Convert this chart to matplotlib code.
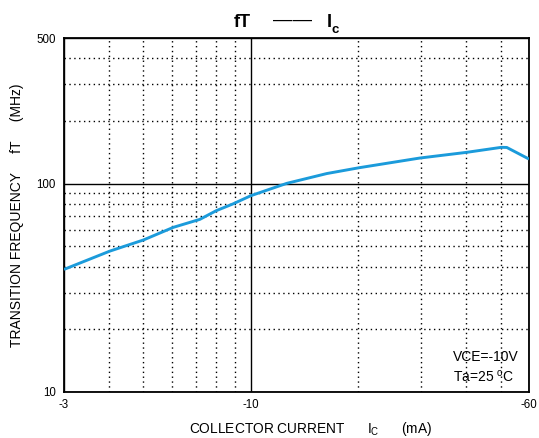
import matplotlib
matplotlib.use("Agg")
import matplotlib.pyplot as plt

plt.rcParams['font.family'] = ['Liberation Sans', 'DejaVu Sans']
plt.rcParams['mathtext.default'] = 'regular'

# Data (collector current magnitude in mA, transition frequency in MHz)
ic_ma = [3.0, 4.03, 5.0, 6.07, 7.2, 8.0, 8.9, 10.0, 12.6, 16.3, 20.1, 29.7, 40.1, 50.2, 52.0, 60.0]
ft_mhz = [38.8, 47.5, 53.7, 61.8, 67.5, 74.3, 80.0, 87.7, 100.5, 112.0, 119.5, 133.0, 141.6, 149.7, 149.5, 131.5]

x_major = [3, 10, 60]
x_major_labels = ['-3', '-10', '-60']
x_minor = [4, 5, 6, 7, 8, 9, 20, 30, 40, 50]
y_major = [10, 100, 500]
y_major_labels = ['10', '100', '500']
y_minor = [20, 30, 40, 50, 60, 70, 80, 90, 200, 300, 400]

W, H = 539, 438
fig = plt.figure(figsize=(W / 100, H / 100), dpi=100)
ax = fig.add_axes([64 / W, 1 - 392 / H, (529 - 64) / W, (392 - 38.3) / H])

ax.set_xscale('log')
ax.set_yscale('log')
ax.set_xlim(3, 60)
ax.set_ylim(10, 500)

ax.set_xticks(x_major)
ax.set_xticklabels(x_major_labels)
ax.set_xticks(x_minor, minor=True)
ax.set_xticklabels([], minor=True)
ax.set_yticks(y_major)
ax.set_yticklabels(y_major_labels)
ax.set_yticks(y_minor, minor=True)
ax.set_yticklabels([], minor=True)

ax.tick_params(which='both', length=0)
ax.tick_params(axis='x', which='major', pad=5, labelsize=8.3)
ax.tick_params(axis='y', which='major', pad=6, labelsize=8.3)

ax.grid(True, which='minor', color='black', linestyle=(0, (1, 2.5)), linewidth=1.0)
ax.grid(True, which='major', color='black', linestyle='-', linewidth=1.0)
ax.set_axisbelow(True)

for s in ax.spines.values():
    s.set_linewidth(1.3)
    s.set_color('black')

ax.plot(ic_ma, ft_mhz, color='#1b9bdb', linewidth=2.1, solid_capstyle='butt', zorder=3)

def fx(px):
    return px / W

def fy(py):
    return 1 - py / H

# Title pieces
fig.text(fx(234), fy(26.7), 'fT', fontsize=13, fontweight='bold', ha='left', va='baseline')
fig.text(fx(273), fy(24.5), '\u2014\u2014', fontsize=14, ha='left', va='baseline')
fig.text(fx(326.5), fy(26.7), 'I', fontsize=13, fontweight='bold', ha='left', va='baseline')
fig.text(fx(332), fy(33.3), 'c', fontsize=9.5, fontweight='bold', ha='left', va='baseline')

# Axis labels
fig.text(fx(189), fy(433), 'COLLECTOR CURRENT      I$_{C}$      (mA)', fontsize=9.9,
         ha='left', va='baseline')
fig.text(fx(17), fy(215.5), 'TRANSITION FREQUENCY     fT     (MHz)', fontsize=10,
         rotation=90, ha='center', va='center')

# Condition annotation
fig.text(fx(453), fy(361), 'VCE=-10V', fontsize=10, ha='left', va='baseline')
fig.text(fx(453), fy(382), 'Ta=25 $^{o}$C', fontsize=10, ha='left', va='baseline')

fig.savefig('out.png', dpi=100)
